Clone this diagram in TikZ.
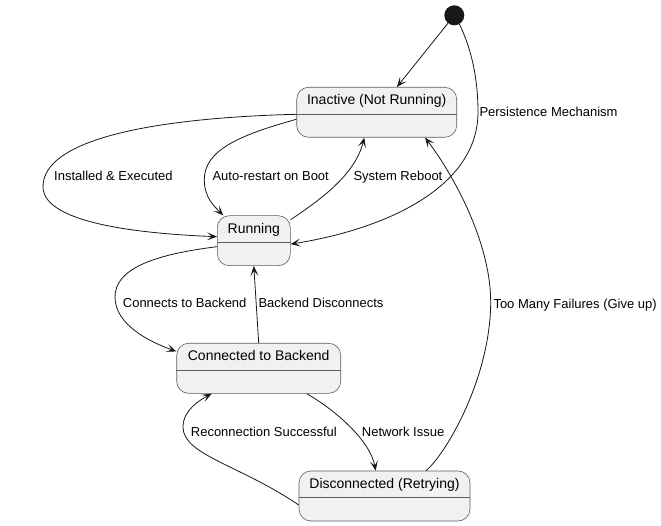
\documentclass[tikz,border=0pt]{standalone}
\usepackage{fontspec}
\setmainfont{Liberation Sans}
\usetikzlibrary{arrows.meta}
\definecolor{edge}{HTML}{181818}
\definecolor{boxfill}{HTML}{F1F1F1}
\definecolor{boxline}{HTML}{5E5E5E}

\begin{document}
\begin{tikzpicture}[x=1pt, y=-1pt,
    state/.style = {draw=boxline, fill=boxfill, line width=0.6pt, rounded corners=12pt,
        minimum height=50pt, inner sep=0pt},
    title/.style = {font=\fontsize{14}{16}\selectfont, inner sep=0pt, text height=10pt, text depth=3pt},
    lbl/.style = {font=\fontsize{13}{15}\selectfont, inner sep=0pt, anchor=west,
        text height=9.5pt, text depth=2.8pt},
    trans/.style = {draw=edge, line width=0.8pt, -{Stealth[length=10pt, width=8pt, inset=5pt]}}]
\useasboundingbox[fill=white] (0,0) rectangle (661,526);

\node[circle, fill=edge, minimum size=20pt, inner sep=0pt] (start) at (454.3,15.3) {};
\node[state, minimum width=160pt] (inactive) at (376.7,112.3) {};
\node[state, minimum width=73pt] (running) at (253.8,240.7) {};
\node[state, minimum width=164pt] (connected) at (258.7,368.3) {};
\node[state, minimum width=171pt] (disconnected) at (384.5,496) {};

\foreach \s in {inactive, running, connected, disconnected}
    \draw[boxline, line width=0.6pt] ([yshift=-27pt]\s.north west) -- ([yshift=-27pt]\s.north east);

\node[title] (inactive-title) at ([yshift=-14.5pt]inactive.north) {Inactive (Not Running)};
\node[title] (running-title) at ([yshift=-14.5pt]running.north) {Running};
\node[title] (connected-title) at ([yshift=-14.5pt]connected.north) {Connected to Backend};
\node[title] (disconnected-title) at ([yshift=-14.5pt]disconnected.north) {Disconnected (Retrying)};

\draw[trans] (start) -- (inactive);
\draw[trans] (start.-60) .. controls (472,50) and (478,80) .. (478,112)
    .. controls (478,190) and (380,230) .. ([yshift=-3.4pt]running.east);
\draw[trans] ([yshift=-2pt]inactive.west) .. controls (150,118) and (43,140) .. (43,186.7)
    .. controls (43,225) and (150,234) .. ([yshift=4pt]running.west);
\draw[trans] ([yshift=-7pt]inactive.west) .. controls (240,135) and (204,150) .. (204.3,180)
    .. controls (204.3,198) and (215,207) .. ([xshift=-30.5pt]running.north);
\draw[trans] ([yshift=-4.3pt]running.north east) .. controls (320,200) and (355,175) .. ([xshift=-12.4pt]inactive.south);
\draw[trans] ([yshift=-6pt]running.west) .. controls (150,255) and (115,270) .. (115,297)
    .. controls (115,325) and (150,342) .. ([yshift=-8.4pt]connected.north west);
\draw[trans] (connected.north) -- (running.south);
\draw[trans] ([xshift=48pt]connected.south) .. controls (335,410) and (370,440) .. ([xshift=-8.8pt]disconnected.north);
\draw[trans] ([yshift=-9pt]disconnected.west) .. controls (240,465) and (183,455) .. (183,427)
    .. controls (183,410) and (200,400) .. ([xshift=-47pt]connected.south);
\draw[trans] ([xshift=41.5pt]disconnected.north) .. controls (445,455) and (490,380) .. (490.7,303)
    .. controls (491,240) and (450,170) .. ([xshift=48.3pt]inactive.south);

\node[lbl] (persist) at (479.3,112.7) {Persistence Mechanism};
\node[lbl] (installed) at (54,176.7) {Installed \& Executed};
\node[lbl] (autorestart) at (212.3,176.7) {Auto-restart on Boot};
\node[lbl] (reboot) at (353.3,176.7) {System Reboot};
\node[lbl] (connects) at (122.7,304.3) {Connects to Backend};
\node[lbl] (backenddisc) at (258.3,304.3) {Backend Disconnects};
\node[lbl] (toomany) at (493.3,305) {Too Many Failures (Give up)};
\node[lbl] (reconnect) at (190.7,432.7) {Reconnection Successful};
\node[lbl] (network) at (361.7,432.7) {Network Issue};
\end{tikzpicture}
\end{document}
